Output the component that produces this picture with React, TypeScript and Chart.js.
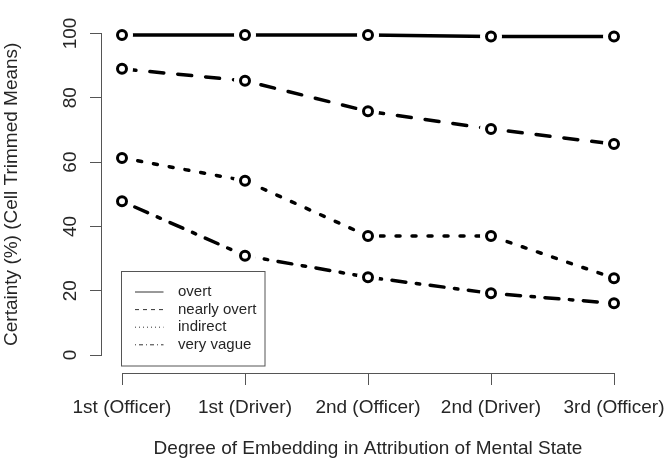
import React, { useEffect, useRef } from "react";
import { Chart, registerables } from "chart.js";

Chart.register(...registerables);

// ---- data ----
const categories = ["1st (Officer)", "1st (Driver)", "2nd (Officer)", "2nd (Driver)", "3rd (Officer)"];
const overt = [99.5, 99.5, 99.5, 99.1, 99.1];
const nearlyOvert = [89.0, 85.3, 75.8, 70.3, 65.6];
const indirect = [61.3, 54.2, 37.0, 37.0, 23.9];
const veryVague = [47.8, 30.9, 24.2, 19.2, 16.1];
const seriesNames = ["overt", "nearly overt", "indirect", "very vague"];
const yTickValues = [0, 20, 40, 60, 80, 100];
const xTitle = "Degree of Embedding in Attribution of Mental State";
const yTitle = "Certainty (%) (Cell Trimmed Means)";

// ---- styles ----
const FONT = '"Liberation Sans", Arial, Helvetica, sans-serif';
const TEXT = "#262626";
const AXIS = "#555";
const LW = 3.5;
const dashes: number[][] = [[], [14, 14], [4, 12], [3.5, 10.5, 14, 10.5]];
const legendDashes: number[][] = [[], [4, 4], [1, 3], [1, 3, 4, 3]];
const Y_AXIS_AT = -0.1707; // x-scale value where the y axis sits (R style offset)
const X_AXIS_AT = -5.6; // y-scale value where the x axis sits

const rStylePlugin = {
  id: "rstyle",
  afterDraw(chart: any) {
    const ctx = chart.ctx;
    const xs = chart.scales.x;
    const ys = chart.scales.y;
    const area = chart.chartArea;

    // gaps around points (R type = "b"), then redraw the point markers
    const metas = chart.data.datasets.map((_: any, i: number) => chart.getDatasetMeta(i));
    ctx.save();
    ctx.setLineDash([]);
    ctx.fillStyle = "#ffffff";
    metas.forEach((meta: any) => {
      meta.data.forEach((pt: any) => {
        const p = pt.getProps(["x", "y"], true);
        ctx.beginPath();
        ctx.arc(p.x, p.y, 11, 0, Math.PI * 2);
        ctx.closePath();
        ctx.fill();
      });
    });
    ctx.restore();
    metas.forEach((meta: any) => {
      meta.data.forEach((pt: any) => {
        const p = pt.getProps(["x", "y"], true);
        ctx.save();
        ctx.setLineDash([]);
        ctx.strokeStyle = "#000";
        ctx.fillStyle = "#fff";
        ctx.lineWidth = 3;
        ctx.beginPath();
        ctx.arc(p.x, p.y, 4.5, 0, Math.PI * 2);
        ctx.closePath();
        ctx.fill();
        ctx.stroke();
        ctx.restore();
      });
    });

    const axisY = ys.getPixelForValue(X_AXIS_AT);
    const axisX = xs.getPixelForValue(Y_AXIS_AT);
    ctx.save();
    ctx.fillStyle = TEXT;
    ctx.font = `19px ${FONT}`;
    ctx.textBaseline = "alphabetic";
    ctx.textAlign = "center";
    // x tick labels
    categories.forEach((c, i) => {
      ctx.fillText(c, xs.getPixelForValue(i), axisY + 39.5);
    });
    // x title
    ctx.fillText(xTitle, (area.left + area.right) / 2, axisY + 81);
    // y tick labels (rotated, parallel to axis)
    yTickValues.forEach((v) => {
      ctx.save();
      ctx.translate(axisX - 25, ys.getPixelForValue(v));
      ctx.rotate(-Math.PI / 2);
      ctx.fillText(String(v), 0, 0);
      ctx.restore();
    });
    // y title
    ctx.save();
    ctx.translate(17, (area.top + area.bottom) / 2);
    ctx.rotate(-Math.PI / 2);
    ctx.fillText(yTitle, 0, 0);
    ctx.restore();

    // legend box (bottom-left)
    const bx = area.left - 0.5;
    const by = 271.5;
    const bw = 143.5;
    const bh = 94.5;
    ctx.strokeStyle = AXIS;
    ctx.lineWidth = 1;
    ctx.setLineDash([]);
    ctx.strokeRect(bx, by, bw, bh);
    ctx.font = `15px ${FONT}`;
    ctx.textAlign = "left";
    ctx.textBaseline = "middle";
    seriesNames.forEach((name, i) => {
      const ry = by + 20.5 + i * 17.6;
      ctx.strokeStyle = "#333";
      ctx.lineWidth = 1;
      ctx.setLineDash(legendDashes[i]);
      ctx.beginPath();
      ctx.moveTo(bx + 13.5, ry);
      ctx.lineTo(bx + 42, ry);
      ctx.stroke();
      ctx.setLineDash([]);
      ctx.fillText(name, bx + 56.5, ry);
    });
    ctx.restore();
  },
};

export default function App() {
  const ref = useRef<HTMLCanvasElement>(null);
  useEffect(() => {
    const seriesValues = [overt, nearlyOvert, indirect, veryVague];
    const chart = new Chart(ref.current as HTMLCanvasElement, {
      type: "line",
      data: {
        labels: categories,
        datasets: seriesValues.map((vals, i) => ({
          label: seriesNames[i],
          data: vals,
          borderColor: "#000",
          borderWidth: LW,
          borderDash: dashes[i],
          borderCapStyle: "round",
          borderJoinStyle: "round",
          fill: false,
          tension: 0,
          clip: false,
          pointRadius: 4.5,
          pointBorderWidth: 3,
          pointBorderColor: "#000",
          pointBackgroundColor: "#fff",
          pointHoverRadius: 4.5,
        })),
      },
      options: {
        responsive: false,
        animation: false,
        devicePixelRatio: 1,
        layout: { padding: { left: 122, right: 57, top: 33.5, bottom: 105 } },
        plugins: { legend: { display: false }, tooltip: { enabled: false }, title: { display: false } },
        events: [],
        scales: {
          x: {
            type: "category",
            offset: false,
            position: { y: X_AXIS_AT } as any,
            grid: { display: true, drawOnChartArea: false, drawTicks: true, tickLength: 11, color: AXIS, tickColor: AXIS, tickWidth: 1 },
            border: { display: true, color: AXIS, width: 1 },
            ticks: { display: false },
          },
          y: {
            type: "linear",
            min: 0,
            max: 100,
            position: { x: Y_AXIS_AT } as any,
            grid: { display: true, drawOnChartArea: false, drawTicks: true, tickLength: 11, color: AXIS, tickColor: AXIS, tickWidth: 1 },
            border: { display: true, color: AXIS, width: 1 },
            ticks: { display: false, stepSize: 20 },
          },
        },
      },
      plugins: [rStylePlugin],
    } as any);
    return () => chart.destroy();
  }, []);
  return (
    <div style={{ position: "fixed", left: 0, top: 0, width: 671, height: 460, background: "#fff" }}>
      <canvas ref={ref} width={671} height={460} style={{ display: "block", width: 671, height: 460 }} />
    </div>
  );
}
